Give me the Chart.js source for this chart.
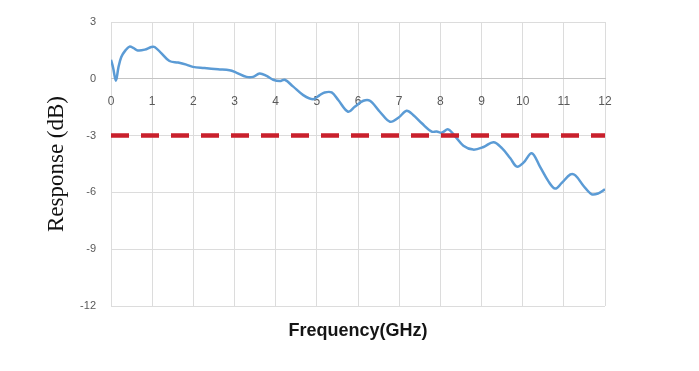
<!DOCTYPE html>
<html>
<head>
<meta charset="utf-8">
<script src="https://cdn.jsdelivr.net/npm/chart.js@4"></script>
<style>
  html, body { margin: 0; padding: 0; background: #ffffff; }
  #wrap { width: 699px; height: 371px; }
</style>
</head>
<body>
<div id="wrap"><canvas id="c" width="699" height="371"></canvas></div>
<script>
// Frequency (GHz) samples
const freqGHz = [0, 0.05, 0.12, 0.18, 0.25, 0.35, 0.45, 0.55, 0.65, 0.82, 0.98, 1.06, 1.22, 1.42, 1.63, 1.83, 1.99,
  2.27, 2.6, 2.88, 3.04, 3.29, 3.45, 3.61, 3.78, 3.94, 4.1, 4.22, 4.42, 4.67, 4.91, 5.07, 5.19, 5.36, 5.52, 5.76,
  5.92, 6.13, 6.29, 6.53, 6.78, 6.98, 7.18, 7.34, 7.55, 7.79, 7.91, 8.03, 8.19, 8.36, 8.56, 8.8, 9.05, 9.29, 9.49,
  9.7, 9.86, 10.02, 10.22, 10.42, 10.63, 10.79, 10.95, 11.16, 11.28, 11.48, 11.68, 11.84, 12.0];
// Response (dB)
const responseDB = [1.0, 0.6, -0.1, 0.6, 1.15, 1.5, 1.7, 1.62, 1.5, 1.54, 1.68, 1.68, 1.36, 0.94, 0.86, 0.75, 0.63,
  0.57, 0.5, 0.45, 0.33, 0.1, 0.1, 0.28, 0.15, -0.05, -0.12, -0.05, -0.4, -0.86, -1.08, -0.86, -0.72, -0.72, -1.12, -1.74,
  -1.48, -1.16, -1.16, -1.74, -2.27, -2.06, -1.69, -1.91, -2.35, -2.79, -2.78, -2.85, -2.67, -3.04, -3.53, -3.74, -3.6, -3.35, -3.65,
  -4.2, -4.64, -4.43, -3.93, -4.64, -5.43, -5.8, -5.5, -5.05, -5.1, -5.66, -6.1, -6.05, -5.84];
// -3 dB reference line
const thresholdX = [0, 12];
const thresholdY = [-3, -3];
// Tick labels
const xTickValues = [0, 1, 2, 3, 4, 5, 6, 7, 8, 9, 10, 11, 12];
const xTickLabels = ['0', '1', '2', '3', '4', '5', '6', '7', '8', '9', '10', '11', '12'];
const yTickValues = [3, 0, -3, -6, -9, -12];
const yTickLabels = ['3', '0', '-3', '-6', '-9', '-12'];

const responsePts = freqGHz.map((f, i) => ({ x: f, y: responseDB[i] }));
const thresholdPts = thresholdX.map((f, i) => ({ x: f, y: thresholdY[i] }));

const gridColor = '#dcdcdc';

new Chart(document.getElementById('c'), {
  type: 'line',
  data: {
    datasets: [
      {
        label: 'Response',
        data: responsePts,
        borderColor: '#5b9bd5',
        borderWidth: 2.5,
        pointRadius: 0,
        tension: 0.35,
        fill: false,
        order: 2
      },
      {
        label: '-3 dB',
        data: thresholdPts,
        borderColor: '#c9202c',
        borderWidth: 4.5,
        borderDash: [18, 12],
        borderCapStyle: 'butt',
        pointRadius: 0,
        fill: false,
        order: 1
      }
    ]
  },
  options: {
    responsive: false,
    animation: false,
    layout: { padding: { top: 22, right: 94, bottom: 0, left: 0 } },
    plugins: { legend: { display: false }, tooltip: { enabled: false } },
    scales: {
      x: {
        type: 'linear',
        min: 0, max: 12,
        position: { y: 0 },
        afterBuildTicks: (s) => { s.ticks = xTickValues.map(v => ({ value: v })); },
        ticks: {
          padding: 16,
          color: '#595959',
          font: { family: 'Liberation Sans', size: 12 },
          maxRotation: 0,
          autoSkip: false,
          callback: (v) => { const i = xTickValues.indexOf(v); return i >= 0 ? xTickLabels[i] : ''; }
        },
        grid: { color: gridColor, lineWidth: 1, drawTicks: false },
        border: { display: true, color: '#c4c4c4', width: 1 }
      },
      x2: {
        type: 'linear',
        axis: 'x',
        min: 0, max: 12,
        position: 'bottom',
        afterFit: (s) => { s.height = 65; },
        ticks: { display: false },
        grid: { display: false, drawTicks: false },
        border: { display: false },
        title: {
          display: true,
          text: 'Frequency(GHz)',
          color: '#151515',
          font: { family: 'Liberation Sans', size: 18, weight: 'bold' },
          padding: { top: 0, bottom: 29 }
        }
      },
      y: {
        type: 'linear',
        min: -12, max: 3,
        position: 'left',
        afterFit: (s) => { s.width = 111; },
        afterBuildTicks: (s) => { s.ticks = yTickValues.map(v => ({ value: v })); },
        ticks: {
          padding: 15,
          color: '#595959',
          font: { family: 'Liberation Sans', size: 11 },
          callback: (v) => { const i = yTickValues.indexOf(v); return i >= 0 ? yTickLabels[i] : ''; }
        },
        grid: { color: gridColor, lineWidth: 1, drawTicks: false },
        border: { display: false },
        title: {
          display: true,
          text: 'Response (dB)',
          color: '#111111',
          font: { family: 'Liberation Serif', size: 23, weight: 'normal' },
          padding: { top: 43, bottom: 0 }
        }
      }
    }
  }
});
</script>
</body>
</html>
